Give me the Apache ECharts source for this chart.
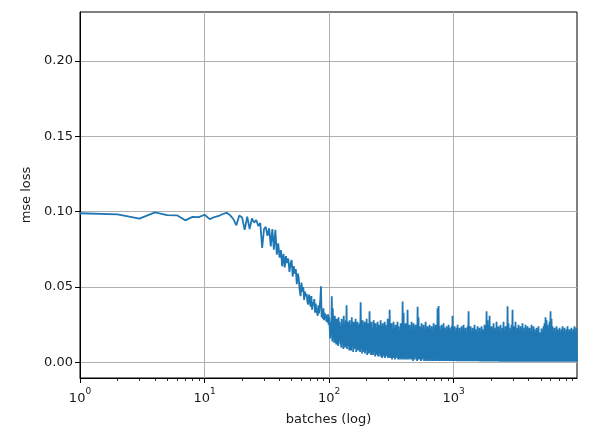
<!DOCTYPE html>
<html>
<head>
<meta charset="utf-8">
<script src="https://cdn.jsdelivr.net/npm/echarts@6/dist/echarts.min.js"></script>
<style>
html,body{margin:0;padding:0;background:#fff;}
#chart{width:608px;height:436px;}
</style>
</head>
<body>
<div id="chart"></div>
<script>
// loss for batches 1..100 (one value per batch)
const earlyLoss = [
 0.0990,0.0983,0.0954,0.0996,0.0977,0.0976,0.0943,0.0966,0.0964,0.0980,
 0.0951,0.0965,0.0972,0.0985,0.0993,0.0978,0.0952,0.0910,0.0975,0.0962,
 0.0880,0.0968,0.0885,0.0955,0.0928,0.0945,0.0905,0.0925,0.0760,0.0885,
 0.0900,0.0840,0.0890,0.0770,0.0885,0.0748,0.0880,0.0715,0.0790,0.0695,
 0.0745,0.0638,0.0720,0.0630,0.0705,0.0660,0.0690,0.0600,0.0655,0.0680,
 0.0570,0.0640,0.0590,0.0620,0.0520,0.0590,0.0560,0.0480,0.0440,0.0530,
 0.0470,0.0500,0.0415,0.0470,0.0440,0.0455,0.0400,0.0384,0.0450,0.0420,
 0.0370,0.0440,0.0350,0.0400,0.0380,0.0420,0.0330,0.0390,0.0350,0.0360,
 0.0310,0.0380,0.0325,0.0318,0.0420,0.0505,0.0300,0.0340,0.0290,0.0360,
 0.0280,0.0330,0.0295,0.0320,0.0270,0.0310,0.0265,0.0320,0.0250,0.0300
];
// loss after batch 100 up to the last batch, read as alternating high / low values
const denseLoss = [
 .030,.016,.027,.018,.044,.014,.036,.017,.028,.013,.031,.015,.025,.012,.029,.016,.026,.011,.030,.014,
 .027,.012,.024,.010,.029,.013,.026,.009,.031,.011,.025,.010,.028,.012,.038,.009,.027,.011,.024,.008,
 .028,.010,.025,.008,.030,.011,.023,.007,.027,.009,.026,.010,.029,.007,.024,.009,.027,.008,.025,.010,
 .026,.007,.040,.009,.025,.006,.028,.008,.024,.007,.027,.006,.023,.008,.029,.005,.025,.007,.026,.006,
 .034,.007,.025,.005,.027,.006,.023,.005,.028,.007,.024,.004,.026,.006,.022,.005,.027,.004,.025,.006,
 .023,.004,.028,.005,.024,.003,.026,.005,.022,.004,.027,.003,.025,.005,.023,.004,.029,.003,.024,.004,
 .035,.003,.024,.004,.026,.002,.022,.004,.027,.003,.023,.002,.025,.004,.021,.003,.027,.002,.024,.003,
 .022,.002,.026,.003,.024,.002,.0405,.003,.033,.002,.023,.002,.026,.004,.022,.002,.035,.002,.024,.003,
 .025,.002,.022,.003,.027,.002,.023,.001,.026,.002,.021,.004,.025,.002,.023,.001,.037,.002,.030,.002,
 .024,.002,.022,.001,.026,.002,.023,.003,.025,.001,.021,.002,.027,.001,.022,.002,.024,.001,.023,.002,
 .025,.001,.022,.002,.024,.001,.021,.001,.026,.002,.023,.001,.025,.001,.022,.002,.036,.001,.0375,.001,
 .024,.001,.021,.002,.025,.001,.022,.001,.026,.001,.023,.002,.021,.001,.024,.001,.022,.001,.025,.001,
 .023,.001,.021,.001,.024,.001,.031,.001,.022,.001,.024,.001,.020,.001,.023,.0008,.025,.001,.021,.0008,
 .023,.001,.020,.0008,.024,.001,.022,.0008,.025,.001,.021,.0008,.023,.001,.020,.0008,.024,.001,.034,.0008,
 .022,.0008,.024,.0008,.020,.0008,.023,.0008,.021,.0008,.025,.0008,.022,.0008,.020,.0008,.024,.0008,.021,.0008,
 .023,.0006,.020,.0006,.024,.0006,.022,.0006,.021,.0006,.025,.0006,.022,.0006,.034,.0006,.028,.0006,.021,.0006,
 .031,.0006,.022,.0006,.024,.0006,.020,.0006,.026,.0006,.021,.0006,.023,.0006,.027,.0006,.021,.0006,.024,.0006,
 .022,.0005,.025,.0005,.020,.0005,.023,.0005,.027,.0005,.021,.0005,.024,.0005,.022,.0005,.0373,.0005,.026,.0005,
 .023,.0005,.021,.0005,.025,.0005,.035,.0005,.022,.0005,.024,.0005,.027,.0005,.021,.0005,.023,.0005,.025,.0005,
 .021,.0005,.024,.0005,.022,.0005,.026,.0005,.020,.0005,.023,.0005,.025,.0005,.021,.0005,.024,.0005,.022,.0005,
 .023,.0005,.020,.0005,.025,.0005,.021,.0005,.024,.0005,.022,.0005,.020,.0005,.023,.0005,.021,.0005,.024,.0005,
 .020,.0005,.019,.0005,.0225,.0005,.020,.0005,.024,.0005,.026,.0005,.030,.0005,.028,.0005,.025,.0005,.022,.0005,
 .027,.0005,.034,.0005,.029,.0005,.024,.0005,.021,.0005,.023,.0005,.020,.0005,.024,.0005,.022,.0005,.021,.0005,
 .023,.0005,.020,.0005,.022,.0005,.024,.0005,.021,.0005,.023,.0005,.019,.0005,.022,.0005,.024,.0005,.020,.0005,
 .022,.0005,.021,.0005,.023,.0005,.020,.0005,.022,.0005,.024,.0005,.021,.0005,.023,.0005
];
const lastBatch = 9766;
const yTicks = [0, 0.05, 0.10, 0.15, 0.20];
const xMajorTicks = [1, 10, 100, 1000];
const xMinorTicks = [2,3,4,5,6,7,8,9,20,30,40,50,60,70,80,90,200,300,400,500,600,700,800,900,2000,3000,4000,5000,6000,7000,8000,9000];
const xLabel = 'batches (log)';
const yLabel = 'mse loss';

const data = [];
earlyLoss.forEach((v, i) => data.push([i + 1, v]));
const n = denseLoss.length;
const span = lastBatch / 100;
denseLoss.forEach((v, k) => {
  const b = Math.round(100 * Math.pow(span, (k + 1) / n));
  data.push([b, v]);
});

const FONT = 'DejaVu Sans';
const TXT = '#1a1a1a';
const chart = echarts.init(document.getElementById('chart'), null, {renderer: 'canvas'});
chart.setOption({
  animation: false,
  backgroundColor: '#fff',
  grid: {left: 80, right: 31, top: 12, bottom: 58, show: true, borderColor: '#000', borderWidth: 1, backgroundColor: 'transparent'},
  xAxis: [{
    type: 'log', logBase: 10, min: 1, max: lastBatch,
    name: xLabel, nameLocation: 'middle', nameGap: 35,
    nameTextStyle: {fontFamily: FONT, fontSize: 13, color: TXT},
    axisLine: {show: true, onZero: false, lineStyle: {color: '#000', width: 1}},
    axisTick: {show: true, length: 5, customValues: xMajorTicks, lineStyle: {color: '#000', width: 1}},
    axisLabel: {
      customValues: xMajorTicks, margin: 9, color: TXT, fontFamily: FONT, fontSize: 13,
      formatter: v => '{b|10}{s|' + Math.round(Math.log10(v)) + '}',
      rich: {
        b: {fontFamily: FONT, fontSize: 13, color: TXT, lineHeight: 18, verticalAlign: 'bottom'},
        s: {fontFamily: FONT, fontSize: 9, color: TXT, lineHeight: 18, verticalAlign: 'top'}
      }
    },
    splitLine: {show: true, lineStyle: {color: '#b0b0b0', width: 1}},
    minorTick: {show: false}, minorSplitLine: {show: false}
  }, {
    type: 'log', logBase: 10, min: 1, max: lastBatch, gridIndex: 0, position: 'bottom',
    axisLine: {show: false, onZero: false},
    axisTick: {show: true, length: 3, customValues: xMinorTicks, lineStyle: {color: '#000', width: 0.8}},
    axisLabel: {show: false},
    splitLine: {show: false}
  }],
  yAxis: {
    type: 'value', min: -0.0103, max: 0.2325,
    name: yLabel, nameLocation: 'middle', nameGap: 45,
    nameTextStyle: {fontFamily: FONT, fontSize: 13, color: TXT},
    axisLine: {show: true, onZero: false, lineStyle: {color: '#000', width: 1}},
    axisTick: {show: true, length: 5, customValues: yTicks, lineStyle: {color: '#000', width: 1}},
    axisLabel: {customValues: yTicks, margin: 7, color: TXT, fontFamily: FONT, fontSize: 13, formatter: v => v.toFixed(2)},
    splitLine: {show: true, lineStyle: {color: '#b0b0b0', width: 1}}
  },
  series: [{
    type: 'line', xAxisIndex: 0, yAxisIndex: 0, data: data,
    showSymbol: false, symbol: 'none', sampling: null, progressive: 0,
    lineStyle: {color: '#1f77b4', width: 1.8},
    emphasis: {disabled: true}
  }]
});
</script>
</body>
</html>
